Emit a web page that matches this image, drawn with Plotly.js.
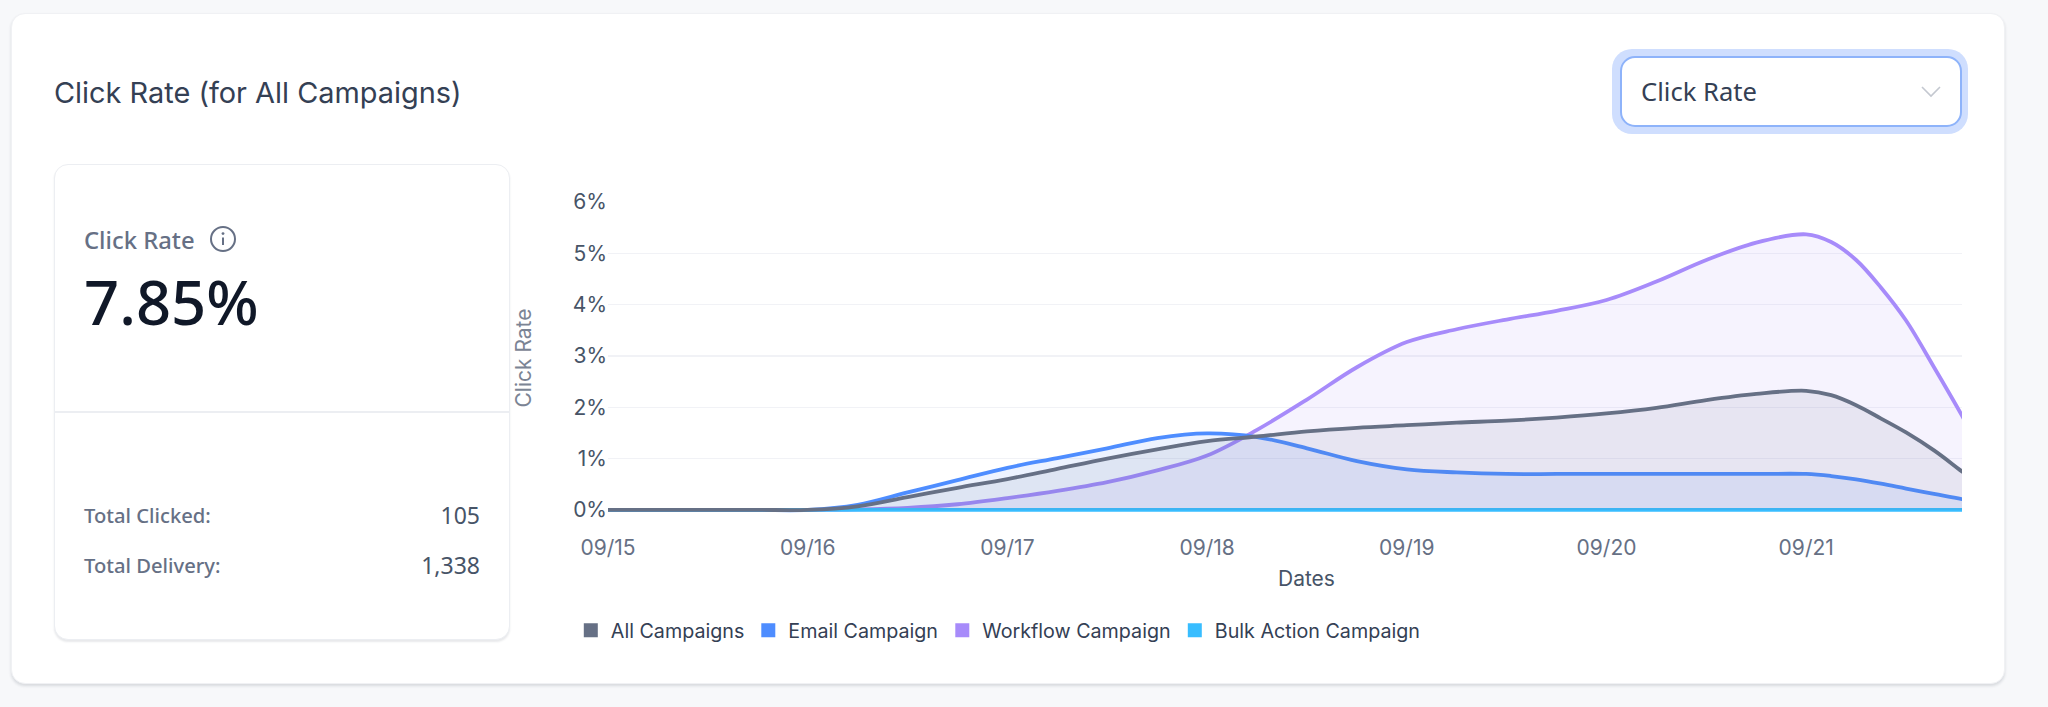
<!DOCTYPE html>
<html>
<head>
<meta charset="utf-8">
<script src="https://cdn.plot.ly/plotly-3.0.1.min.js"></script>
<style>
html,body{margin:0;padding:0;width:2048px;height:707px;overflow:hidden;background:#f7f8fa;}
.abs{position:absolute;white-space:nowrap;}
#card{left:11px;top:13px;width:1994px;height:671px;background:#fff;border:1px solid #f0f1f4;border-radius:14px;box-sizing:border-box;box-shadow:0 2px 3px rgba(30,40,60,.14);}
#title{left:54px;top:72.5px;font:400 28.9px/40px Inter,sans-serif;color:#344054;}
#ring{left:1612px;top:49px;width:356px;height:85px;border-radius:20px;background:#cfdefe;}
#select{left:1620px;top:56px;width:342px;height:71px;box-sizing:border-box;background:#fff;border:2px solid #8eb3fa;border-radius:15px;}
#selectText{left:1641px;top:72px;font:400 25.6px/40px "Noto Sans",sans-serif;color:#344054;}
#inner{left:54px;top:164px;width:456px;height:476px;box-sizing:border-box;background:#fff;border:1.5px solid #eceef2;border-radius:14px;box-shadow:0 2px 2px rgba(30,40,60,.10);}
#divider{left:55px;top:411px;width:454px;height:2px;background:#eceef2;}
#kpiLabel{left:84px;top:220px;font:500 23.8px/40px "Noto Sans",sans-serif;color:#667085;}
#kpiValue{left:84px;top:258px;font:500 61.5px/86px "Noto Sans",sans-serif;color:#101828;}
.statL{left:84px;font:500 20.2px/30px "Noto Sans",sans-serif;color:#667085;}
.statV{right:1568px;font:400 23px/30px "Noto Sans",sans-serif;color:#475467;}
#chart{left:0;top:0;width:2048px;height:707px;}
</style>
</head>
<body>
<div id="card" class="abs"></div>
<div id="title" class="abs">Click Rate (for All Campaigns)</div>
<div id="ring" class="abs"></div>
<div id="select" class="abs"></div>
<div id="selectText" class="abs">Click Rate</div>
<svg class="abs" style="left:1920px;top:84px" width="22" height="16"><path d="M2 3 L11 12 L20 3" fill="none" stroke="#c4c8d0" stroke-width="1.6"/></svg>
<div id="inner" class="abs"></div>
<div id="divider" class="abs"></div>
<div id="kpiLabel" class="abs">Click Rate</div>
<svg class="abs" style="left:209px;top:225px" width="28" height="28"><circle cx="14" cy="14" r="12" fill="none" stroke="#667085" stroke-width="2"/><circle cx="14" cy="8.6" r="1.4" fill="#667085"/><path d="M14 12.5V20" stroke="#667085" stroke-width="2"/></svg>
<div id="kpiValue" class="abs">7.85%</div>
<div class="abs statL" style="top:500px">Total Clicked:</div>
<div class="abs statV" style="top:500px">105</div>
<div class="abs statL" style="top:550px">Total Delivery:</div>
<div class="abs statV" style="top:550px">1,338</div>
<div id="chart" class="abs"></div>
<script>
const dayPositions = [0,0.25,0.5,0.75,1,1.25,1.5,1.75,2,2.25,2.5,2.75,3,3.25,3.5,3.75,4,4.25,4.5,4.75,5,5.25,5.5,5.75,6,6.125,6.25,6.375,6.5,6.64,6.78,7];
const allCampaigns = [0,0,0,0,0,0.07,0.25,0.43,0.60,0.80,1.00,1.18,1.34,1.43,1.53,1.60,1.65,1.70,1.74,1.80,1.88,1.99,2.14,2.26,2.32,2.235,2.04,1.78,1.51,1.16,0.75,0.10];
const emailCampaign = [0,0,0,0,0,0.10,0.34,0.58,0.82,1.01,1.20,1.40,1.49,1.42,1.20,0.95,0.79,0.73,0.70,0.70,0.70,0.70,0.70,0.70,0.70,0.66,0.595,0.51,0.415,0.31,0.21,0.02];
const workflowCampaign = [0,0,0,0,0,0.01,0.04,0.11,0.23,0.37,0.54,0.77,1.06,1.56,2.15,2.78,3.27,3.52,3.71,3.88,4.09,4.45,4.87,5.21,5.37,5.22,4.87,4.33,3.69,2.78,1.84,0.30];
const bulkActionCampaign = [0,0,0,0,0,0,0,0,0,0,0,0,0,0,0,0,0,0,0,0,0,0,0,0,0,0,0,0,0,0,0,0];
const tickDays = [0,1,2,3,4,5,6];
const tickLabels = ['09/15','09/16','09/17','09/18','09/19','09/20','09/21'];
const seriesNames = ['All Campaigns','Email Campaign','Workflow Campaign','Bulk Action Campaign'];
const seriesColors = ['#667085','#4e8dff','#a78bfa','#38bdff'];
const seriesFills = ['rgba(102,112,133,0.10)','rgba(78,141,255,0.10)','rgba(167,139,250,0.10)','rgba(56,189,255,0.10)'];
const seriesValues = [allCampaigns,emailCampaign,workflowCampaign,bulkActionCampaign];
const drawOrder = [2,1,3,0];
const legendIds = ['legend','legend2','legend3','legend4'];

const PL=608, PR=1962, W=2048, H=707, PB=513.6;
const traces = drawOrder.map(i=>({
  type:'scatter',mode:'lines',x:dayPositions,y:seriesValues[i],name:seriesNames[i],
  line:{color:seriesColors[i],width:3.8,shape:'spline',smoothing:1},
  fill:'tozeroy',fillcolor:seriesFills[i],showlegend:false,hoverinfo:'skip'
}));
seriesNames.forEach((n,i)=>traces.push({
  type:'scatter',mode:'markers',x:[null],y:[null],name:n,legend:legendIds[i],
  marker:{symbol:'square',size:14,color:seriesColors[i]},showlegend:true
}));
const legendLeft = [570.8,748.3,942.3,1174.8];
const layout = {
  width:W,height:H,autosize:false,
  paper_bgcolor:'rgba(0,0,0,0)',plot_bgcolor:'rgba(0,0,0,0)',
  margin:{l:PL,r:W-PR,t:201.5,b:H-PB,pad:0},
  font:{family:'Inter, sans-serif',size:21,color:'#475467'},
  xaxis:{type:'linear',range:[0,(PR-PL)/199.7],tickmode:'array',tickvals:tickDays,ticktext:tickLabels,showgrid:false,zeroline:false,showline:false,ticks:'',ticklabelstandoff:19,tickfont:{size:21,color:'#667085'}},
  yaxis:{automargin:true,range:[-0.08,6],tickmode:'array',tickvals:[0,1,2,3,4,5,6],ticktext:['0%','1%','2%','3%','4%','5%','6%'],showgrid:true,gridcolor:'#f1f2f6',gridwidth:1.5,zeroline:false,showline:false,ticks:'',ticklabelstandoff:12.6,tickfont:{size:21,color:'#475467'},title:{text:'Click Rate',standoff:35,font:{size:21,color:'#7b8494'}}},
  annotations:[{xref:'paper',yref:'paper',x:(1306-PL)/(PR-PL),y:(PB-578)/(PB-201.5),xanchor:'center',yanchor:'middle',showarrow:false,text:'Dates',font:{size:21,color:'#475467'}}],
  showlegend:true
};
legendIds.forEach((id,i)=>{
  layout[id]={orientation:'h',x:(legendLeft[i]-PL)/(PR-PL),y:(PB-630)/(PB-201.5),xanchor:'left',yanchor:'middle',bgcolor:'rgba(0,0,0,0)',font:{size:19.7,color:'#344054'},itemclick:false,itemdoubleclick:false};
});
Plotly.newPlot('chart',traces,layout,{displayModeBar:false,staticPlot:true});
</script>
</body>
</html>
